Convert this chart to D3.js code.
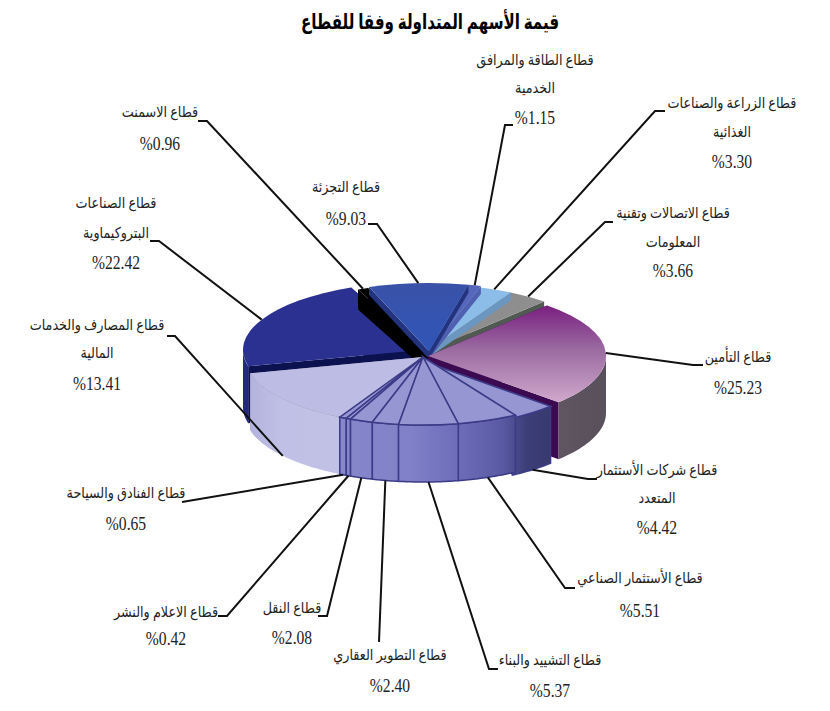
<!DOCTYPE html>
<html lang="ar">
<head>
<meta charset="utf-8">
<script src="https://cdn.jsdelivr.net/npm/d3@7"></script>
<style>
  html, body { margin: 0; background: #fff; }
  text { font-family: "Liberation Serif", "DejaVu Sans", serif; fill: #222; text-anchor: middle; }
</style>
</head>
<body>
<div id="main-vis"></div>
<script>
const title = 'قيمة الأسهم المتداولة وفقا للقطاع'

// clockwise, starting from the top of the insurance slice
const values = [25.23, 4.42, 5.51, 5.37, 2.40, 2.08, 0.42, 0.65, 13.41, 22.42, 0.96, 9.03, 1.15, 3.30, 3.66]
const valueLabels = ['%25.23', '%4.42', '%5.51', '%5.37', '%2.40', '%2.08', '%0.42', '%0.65', '%13.41', '%22.42', '%0.96', '%9.03', '%1.15', '%3.30', '%3.66']
const names = [
    ['قطاع التأمين'],
    ['قطاع شركات الأستثمار', 'المتعدد'],
    ['قطاع الأستثمار الصناعي'],
    ['قطاع التشييد والبناء'],
    ['قطاع التطوير العقاري'],
    ['قطاع النقل'],
    ['قطاع الاعلام والنشر'],
    ['قطاع الفنادق والسياحة'],
    ['قطاع المصارف والخدمات', 'المالية'],
    ['قطاع الصناعات', 'البتروكيماوية'],
    ['قطاع الاسمنت'],
    ['قطاع التجزئة'],
    ['قطاع الطاقة والمرافق', 'الخدمية'],
    ['قطاع الزراعة والصناعات', 'الغذائية'],
    ['قطاع الاتصالات وتقنية', 'المعلومات']
]

// look of each slice, same order as values
const front = {top: '#9696d2', wall: 'wallFront', side: '#35357e', line: '#3b3b88', dy: -3}
const sliceLook = [
    {dx: 5, dy: -4, top: 'url(#pink)', wall: 'wallPink', side: '#3c0a50'},
    {...front, dx: -3, dy: 0},
    front, front, front, front, front, front,
    {dy: -3, top: '#bcbce4', wall: 'wallLav', side: '#8a8a94'},
    {dx: -2, dy: -10, top: '#2b3191', wall: 'wallDark', side: '#0c1150'},
    {dx: 5, dy: -8, top: '#000', wall: 'wallDark', side: '#000', depth: 20},
    {dx: 6, dy: -9, top: 'url(#blue)', wall: 'wallDark', side: '#23337e', depth: 8},
    {dx: 6, dy: -9, top: '#5566bb', wall: 'wallDark', side: '#5060b0', depth: 8},
    {dx: 2, dy: -8, top: '#8cbce8', wall: 'wallDark', side: '#6a96c0', depth: 8},
    {dx: 2, dy: -8, top: '#8e8e8e', wall: 'wallDark', side: '#505a52', depth: 12}
]

// back slices first, nearer ones paint over them (indexes into values)
const paintOrder = [14, 13, 12, 9, 10, 11, 0, 8, 1, 7, 6, 2, 5, 4, 3]

// label centre x, the centre line of each text row, and the leader elbow
const labelPos = [
    {x: 738, rows: [357, 387], elbow: [[703, 365], [693, 365]]},
    {x: 657, rows: [470, 498, 527], elbow: [[597, 479], [588, 479]]},
    {x: 640, rows: [578, 610], elbow: [[575, 588], [565, 588]]},
    {x: 550, rows: [660, 690], elbow: [[498, 669], [489, 669]]},
    {x: 390, rows: [655, 685], elbow: [[379, 642]]},
    {x: 292, rows: [608, 637], elbow: [[318, 616], [327, 616]]},
    {x: 166, rows: [612, 638], elbow: [[218, 616], [227, 616]]},
    {x: 126, rows: [493, 523], elbow: [[182, 502]]},
    {x: 97, rows: [325, 353, 383], elbow: [[167, 336], [175, 336]]},
    {x: 116, rows: [203, 233, 262], elbow: [[150, 241], [159, 241]]},
    {x: 160, rows: [112, 143], elbow: [[198, 121], [207, 121]]},
    {x: 346, rows: [187, 218], elbow: [[368, 224], [377, 224]]},
    {x: 535, rows: [60, 88, 117], elbow: [[513, 125], [505, 125]]},
    {x: 732, rows: [103, 132, 161], elbow: [[665, 111], [655, 111]]},
    {x: 673, rows: [213, 242, 270], elbow: [[613, 222], [605, 222]]}
]

const cx = 423, cy = 360, rx = 178, ry = 68, wallDepth = 57
const deg = Math.PI / 180

window.onload = setup

function setup () {
    const svg = d3.select('#main-vis').append('svg')
        .attr('width', 830)
        .attr('height', 711)

    const defs = svg.append('defs')
    const gradient = (id, stops) => {
        const g = defs.append('linearGradient').attr('id', id)
        stops.forEach(s => g.append('stop').attr('offset', s[0]).attr('stop-color', s[1]))
        return g
    }
    gradient('pink', [[0, '#7a1f80'], [0.45, '#9a6aa0'], [1, '#d0a8cc']]).attr('x2', 0).attr('y2', 1)
    gradient('blue', [[0, '#3a52a8'], [1, '#2f55b8']]).attr('x2', 0).attr('y2', 1)
    // walls share one gradient across the width of the pie
    const spanned = (id, stops) => gradient(id, stops)
        .attr('gradientUnits', 'userSpaceOnUse')
        .attr('x1', -rx).attr('x2', rx).attr('y1', 0).attr('y2', 0)
    spanned('wallFront', [[0, '#9090d0'], [0.47, '#8080c8'], [0.6, '#6c6cb8'], [0.72, '#5a5aa4'], [0.8, '#3c3e78'], [1, '#30305c']])
    spanned('wallPink', [[0, '#706070'], [0.72, '#6a5a68'], [1, '#58505c']])
    spanned('wallLav', [[0, '#b0b0dc'], [0.1, '#c0c0e6'], [0.5, '#c4c4e8']])
    spanned('wallDark', [[0, '#23297c'], [1, '#23297c']])

    svg.append('text')
        .attr('transform', 'translate(430,29) scale(0.72,1)')
        .style('font-size', '21px').style('font-weight', 'bold')
        .style('fill', '#000')
        .text(title)

    const slices = d3.pie().sort(null).startAngle(42 * deg).endAngle(402 * deg)(values)
    slices.forEach((d, i) => {
        d.look = {dx: 0, dy: 0, depth: wallDepth, ...sliceLook[i]}
        d.mid = (d.startAngle + d.endAngle) / 2
    })

    const arc = d3.arc().innerRadius(0).outerRadius(1)
    const line = d3.line()
    const ox = a => rx * Math.sin(a)
    const oy = a => -ry * Math.cos(a)

    const g = svg.selectAll('g.slice')
        .data(paintOrder.map(i => slices[i]))
        .join('g')
            .attr('class', 'slice')
            .attr('transform', d => `translate(${cx + d.look.dx},${cy + d.look.dy})`)

    // cut faces
    g.selectAll('path.side')
        .data(d => [d.startAngle, d.endAngle].map(a => ({a, look: d.look})))
        .join('path')
            .attr('class', 'side')
            .attr('d', d => line([[0, 0], [ox(d.a), oy(d.a)], [ox(d.a), oy(d.a) + d.look.depth], [0, d.look.depth]]) + 'Z')
            .attr('fill', d => d.look.side)

    // outer wall, only the part that faces the viewer
    g.append('path')
        .attr('d', d => {
            const a0 = Math.max(d.startAngle, 90 * deg)
            const a1 = Math.min(d.endAngle, 270 * deg)
            if (a1 <= a0) return null
            const upper = d3.range(25).map(k => {
                const a = a0 + (a1 - a0) * k / 24
                return [ox(a), oy(a)]
            })
            const lower = upper.slice().reverse().map(p => [p[0], p[1] + d.look.depth])
            return line(upper.concat(lower)) + 'Z'
        })
        .attr('fill', d => `url(#${d.look.wall})`)
        .attr('stroke', d => d.look.line || 'none')
        .attr('stroke-width', 1.5)

    // top face
    g.append('path')
        .attr('d', d => arc(d))
        .attr('transform', `scale(${rx},${ry})`)
        .attr('fill', d => d.look.top)
        .attr('stroke', d => d.look.line || 'none')
        .attr('stroke-width', 1.5)
        .attr('vector-effect', 'non-scaling-stroke')

    // leaders run from the label elbow to the edge of the slice
    svg.append('g').selectAll('path')
        .data(slices)
        .join('path')
            .attr('d', (d, i) => {
                const isFront = Math.cos(d.mid) < -0.5
                const end = [cx + d.look.dx + ox(d.mid), cy + d.look.dy + oy(d.mid) + (isFront ? wallDepth : 0)]
                return line(labelPos[i].elbow.concat([end]))
            })
            .attr('fill', 'none')
            .attr('stroke', '#111')
            .attr('stroke-width', 2)

    // text is squeezed sideways to get close to the narrow face of the original
    const labels = svg.append('g').selectAll('g')
        .data(slices)
        .join('g')

    labels.selectAll('text')
        .data((d, i) => names[i].concat([valueLabels[i]]).map((t, k) => ({
            t,
            isValue: k === names[i].length,
            x: labelPos[i].x,
            y: labelPos[i].rows[k]
        })))
        .join('text')
            .attr('transform', d => `translate(${d.x},${d.y + (d.isValue ? 6.5 : 5)}) scale(${d.isValue ? 0.8 : 0.85},1)`)
            .style('font-size', d => d.isValue ? '19.5px' : '15px')
            .text(d => d.t)
}
</script>
</body>
</html>
